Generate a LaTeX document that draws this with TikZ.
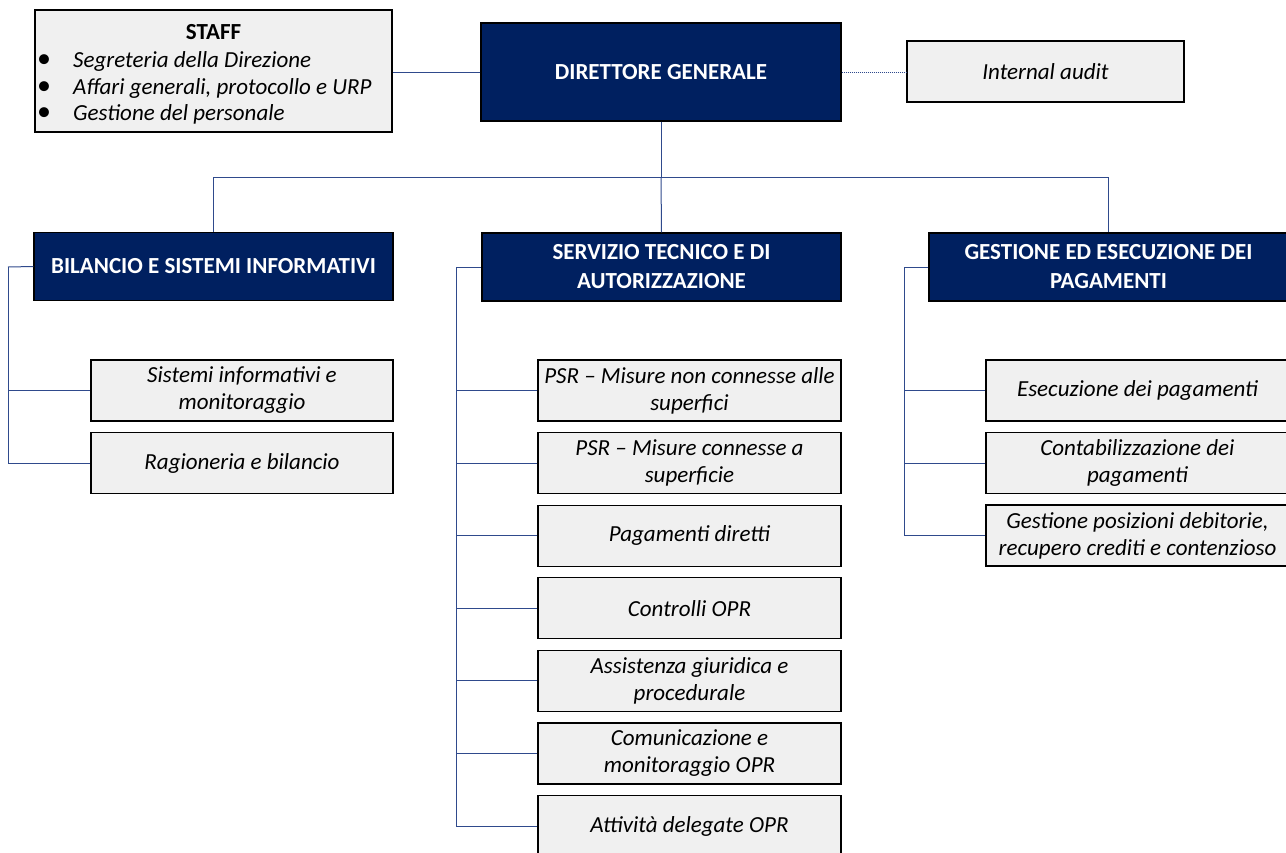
\documentclass[tikz,border=0pt]{standalone}
\usepackage{fontspec}
\setmainfont{Carlito}
\definecolor{navy}{HTML}{002060}
\definecolor{boxgray}{HTML}{F0F0F0}
\definecolor{linkblue}{HTML}{2F4A8C}
\newcommand{\staffbul}{\makebox[36pt][l]{\upshape\fontsize{28}{26.5}\selectfont\textbullet}}
\tikzset{
  head/.style={draw=black,fill=navy,text=white,font=\bfseries\fontsize{23}{29}\selectfont,
    align=center,line width=1.2pt,inner sep=0pt,minimum width=359,minimum height=68},
  unit/.style={draw=black,fill=boxgray,font=\itshape\fontsize{23}{27}\selectfont,
    align=center,line width=1.2pt,inner sep=0pt,minimum width=303,minimum height=61},
  link/.style={draw=linkblue,line width=1pt},
}
\begin{document}
\begin{tikzpicture}[x=1pt,y=-1pt]
    \useasboundingbox (0,0) rectangle (1286,852);
    \clip (0,0) rectangle (1286,852);
    % top level
    \node[head,minimum width=360,minimum height=98] (dg) at (661,72) {DIRETTORE GENERALE};
    \node[unit,minimum width=357,minimum height=122] (staff) at (213.5,71) {};
    \node[font=\bfseries\fontsize{23}{27}\selectfont] (stafftitle) at (213.5,32) {STAFF};
    \node[anchor=west,align=left,inner sep=0pt,font=\itshape\fontsize{23}{26.5}\selectfont] (stafflist) at (37,88)
      {\staffbul Segreteria della Direzione\\
       \staffbul Affari generali, protocollo e URP\\
       \staffbul Gestione del personale};
    \node[unit,minimum width=277] (audit) at (1045.5,71.5) {Internal audit};
    % services
    \node[head] (bil) at (213.5,266.5) {BILANCIO E SISTEMI INFORMATIVI};
    \node[head] (serv) at (661.5,267) {SERVIZIO TECNICO E DI\\AUTORIZZAZIONE};
    \node[head] (gest) at (1108.5,267) {GESTIONE ED ESECUZIONE DEI\\PAGAMENTI};
    % offices
    \foreach \t [count=\i] in {{Sistemi informativi e\\monitoraggio},{Ragioneria e bilancio}}
      \node[unit,minimum width=302] (b\i) at (242,{390.5+72.5*(\i-1)}) {\t};
    \foreach \t [count=\i] in {{PSR -- Misure non connesse alle\\superfici},{PSR -- Misure connesse a\\superficie},
        {Pagamenti diretti},{Controlli OPR},{Assistenza giuridica e\\procedurale},
        {Comunicazione e\\monitoraggio OPR},{Attività delegate OPR}}
      \node[unit] (s\i) at (689.5,{390.5+72.6*(\i-1)}) {\t};
    \foreach \t [count=\i] in {{Esecuzione dei pagamenti},{Contabilizzazione dei\\pagamenti},
        {Gestione posizioni debitorie,\\recupero crediti e contenzioso}}
      \node[unit] (g\i) at (1137.5,{390.5+72.5*(\i-1)}) {\t};
    % connectors
    \draw[link] (dg.west) -- (dg.west -| staff.east);
    \draw[link,densely dotted,line width=0.6pt] (dg.east) -- (dg.east -| audit.west);
    \coordinate (bus) at (661,177);
    \draw[link] (dg.south) -- (dg.south |- bus);
    \draw[link] (dg.south |- bus) -| (bil.north);
    \draw[link] (dg.south |- bus) -| (gest.north);
    \draw[link] (dg.south |- bus) -- (serv.north);
    \coordinate (bspine) at (8,267);
    \coordinate (sspine) at (456,267);
    \coordinate (gspine) at (904,267);
    \draw[link] (bil.west) -- (bspine);
    \draw[link] (serv.west) -- (sspine);
    \draw[link] (gest.west) -- (gspine);
    \foreach \i in {1,2} \draw[link] (bspine) |- (b\i.west);
    \foreach \i in {1,...,7} \draw[link] (sspine) |- (s\i.west);
    \foreach \i in {1,2,3} \draw[link] (gspine) |- (g\i.west);
  \end{tikzpicture}
\end{document}
